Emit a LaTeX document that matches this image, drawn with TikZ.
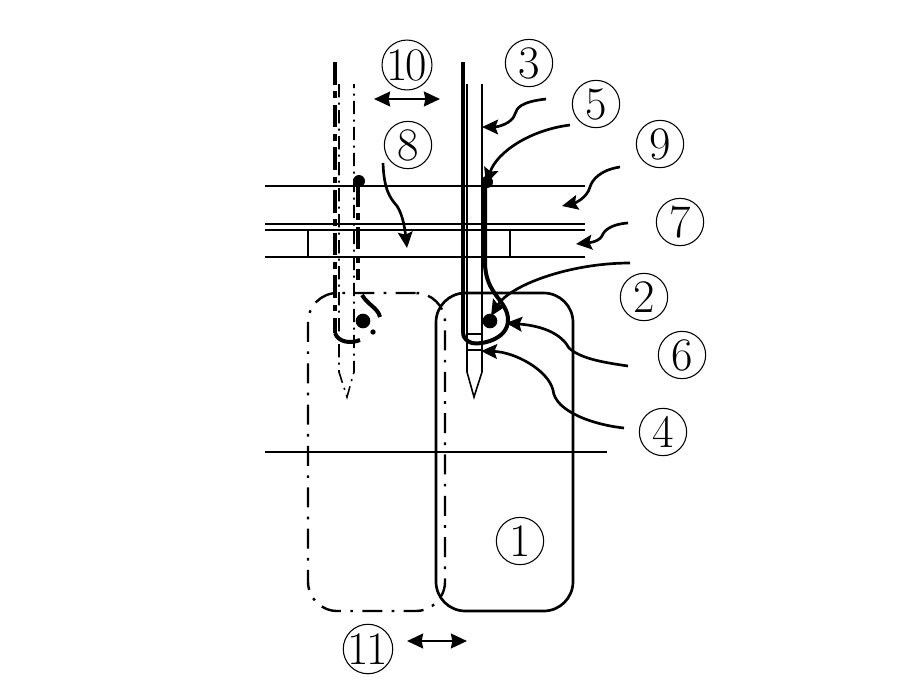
\documentclass[tikz,border=0pt]{standalone}
\usepackage{tikz}
\usetikzlibrary{arrows.meta}
\begin{document}
\begin{tikzpicture}[x=0.75pt,y=-0.75pt,semithick,
numlabel/.style={circle,draw,line width=0.8pt,inner sep=0pt,minimum size=35.5pt,font=\fontsize{35}{35}\selectfont},
rail/.style={line width=2pt},
thinrail/.style={line width=1.2pt},
leader/.style={line width=2pt,-{Stealth[inset=2pt,length=12pt,width=11pt]}},
ghost/.style={line width=1.8pt,dash pattern=on 15pt off 7pt on 2pt off 7pt},
ghostthin/.style={line width=1.2pt,dash pattern=on 10pt off 4pt on 1.5pt off 4pt},
ghostbold/.style={line width=3.2pt,dash pattern=on 17pt off 5pt on 5pt off 5pt},
twohead/.style={line width=2pt,{Stealth[inset=1pt,length=12pt,width=11pt]}-{Stealth[inset=1pt,length=12pt,width=11pt]}}]
\useasboundingbox (0,0) rectangle (921,697);
% labels
\node[numlabel] (n1) at (520,541) {1};
\node[numlabel] (n2) at (644,297) {2};
\node[numlabel] (n3) at (529,63) {3};
\node[numlabel] (n4) at (663,432) {4};
\node[numlabel] (n5) at (596,104) {5};
\node[numlabel] (n6) at (682,355) {6};
\node[numlabel] (n7) at (680,222) {7};
\node[numlabel] (n8) at (408,145) {8};
\node[numlabel] (n9) at (660,144) {9};
\node[numlabel] (n10) at (407,65) {\kern-1pt 1\kern-2pt 0};
\node[numlabel] (n11) at (368,649) {\kern-1pt 1\kern-2pt 1};
% head and rails
\draw[line width=2pt,rounded corners=22pt] (436,293) rectangle (573,611);
\draw[ghost,rounded corners=22pt] (445,293) -- (308,293) -- (308,611) -- (445,611) -- cycle;
\draw[rail] (265,186) -- (585,186);
\draw[rail] (265,224) -- (585,224);
\draw[rail] (265,230) -- (585,230);
\draw[thinrail] (265,257) -- (585,257);
\draw[thinrail] (308,230) -- (308,257);
\draw[thinrail] (510,230) -- (510,257);
\draw[rail] (265,452) -- (607,452);
% needle
\draw[line width=3.4pt] (463,62) -- (463,333);
\draw[thinrail] (467,84) -- (467,372) -- (474,397) -- (482,372) -- (482,84);
\draw[thinrail] (467,334) -- (482,334);
\draw[thinrail] (467,350) -- (482,350);
\fill (487,182) circle (4.5pt);
\fill (490,321) circle (5.5pt);
\draw[line width=3pt] (485,184) -- (485,262) .. controls (485,295) and (508,300) .. (508,320) .. controls (508,340) and (480,345) .. (472,343) .. controls (468,342) and (463,338) .. (463,333);
% ghost needle
\draw[ghostbold] (335,62) -- (335,333);
\draw[ghostthin] (339,84) -- (339,372) -- (347,397) -- (354,372) -- (354,84);
\fill (359,181) circle (4.5pt);
\fill (363,321) circle (5.5pt);
\draw[ghostbold] (358,184) -- (358,280);
\draw[line width=3pt] (362,295) .. controls (368,305) and (378,308) .. (380,317);
\fill (373,332) circle (2pt);
\draw[line width=3pt] (335,333) .. controls (338,342) and (350,344) .. (360,340);
% leaders
\coordinate (a3) at (546,99);
\coordinate (a5) at (570,125);
\coordinate (a9) at (620,167);
\coordinate (a7) at (628,223);
\coordinate (a2) at (630,263);
\coordinate (a6) at (628,366);
\coordinate (a4) at (624,428);
\coordinate (a8) at (383,163);
\draw[leader] (a3) .. controls (520,102) and (517,108) .. (515,114) .. controls (512,124) and (497,127) .. (482,127);
\draw[leader] (a5) .. controls (530,130) and (497,152) .. (486,184);
\draw[leader] (a9) .. controls (600,170) and (592,180) .. (590,187) .. controls (587,198) and (575,203) .. (562,206);
\draw[leader] (a7) .. controls (612,224) and (604,230) .. (602,236) .. controls (598,243) and (585,243) .. (576,244);
\draw[leader] (a2) .. controls (570,263) and (510,285) .. (491,316);
\draw[leader] (a6) .. controls (600,362) and (580,358) .. (569,348) .. controls (562,335) and (545,326) .. (506,323);
\draw[leader] (a4) .. controls (595,425) and (555,412) .. (553,390) .. controls (548,370) and (515,352) .. (481,351);
\draw[leader] (a8) .. controls (384,190) and (390,198) .. (397,206) .. controls (403,215) and (405,230) .. (407,248);
\draw[twohead] (374,99) -- (440,99);
\draw[twohead] (407,641) -- (467,641);
\end{tikzpicture}
\end{document}
